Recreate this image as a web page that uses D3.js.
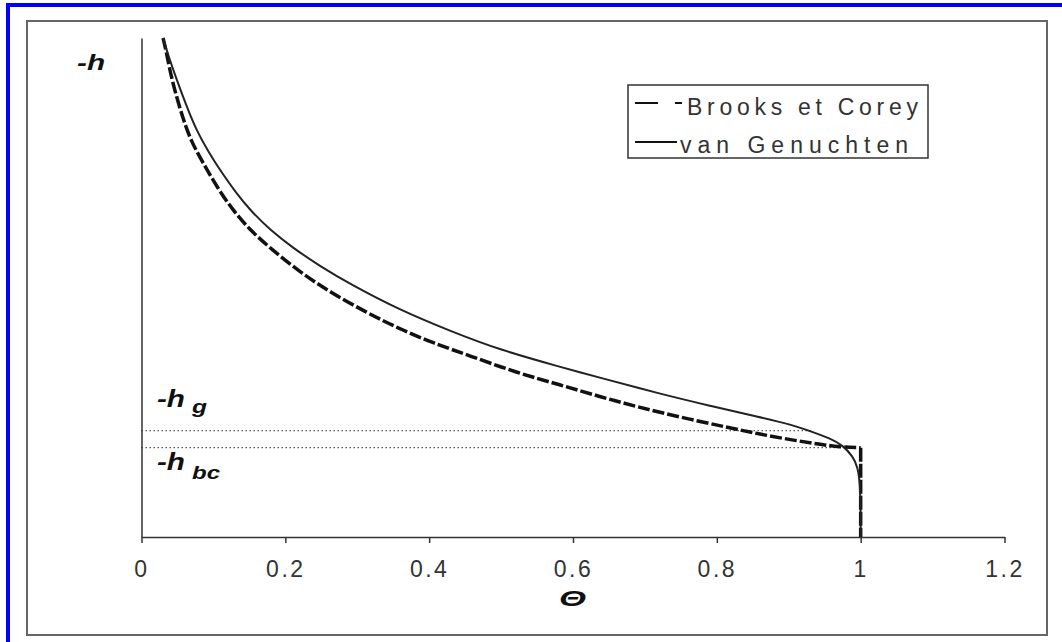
<!DOCTYPE html>
<html>
<head>
<meta charset="utf-8">
<script src="https://cdn.jsdelivr.net/npm/d3@7"></script>
<style>
  html, body { margin: 0; padding: 0; background: #fff; }
  svg { display: block; }
  text { font-family: "Liberation Sans", Arial, sans-serif; }
</style>
</head>
<body>
<svg id="chart" width="1062" height="642"></svg>
<script>
// ---- data ----
const thetaTicks = [0, 0.2, 0.4, 0.6, 0.8, 1, 1.2];
const tickLabels = ["0", "0.2", "0.4", "0.6", "0.8", "1", "1.2"];

// van Genuchten curve: theta (Θ) and -h (arbitrary units, 0..100; no y scale shown)
const vgTheta = [0.030, 0.037, 0.049, 0.062, 0.076, 0.093, 0.112, 0.131, 0.151, 0.179, 0.211, 0.248, 0.290, 0.359, 0.429, 0.498, 0.582, 0.638, 0.721, 0.790, 0.860, 0.902, 0.934, 0.957, 0.975, 0.989, 0.996, 0.999, 1.000, 1.000];
const vgH     = [100.0, 96.6, 91.6, 86.6, 81.6, 77.2, 72.9, 69.1, 65.5, 61.5, 57.9, 54.3, 50.7, 45.5, 41.3, 37.5, 34.1, 31.9, 28.7, 26.3, 24.0, 22.6, 21.0, 19.8, 18.4, 16.2, 14.0, 10.8, 5.4, 0.0];

// Brooks et Corey curve
const bcTheta = [0.030, 0.0355, 0.042, 0.058, 0.070, 0.086, 0.105, 0.127, 0.151, 0.179, 0.220, 0.262, 0.314, 0.359, 0.405, 0.457, 0.522, 0.582, 0.638, 0.689, 0.749, 0.814, 0.860, 0.906, 0.943, 0.971, 1.000];
const bcH     = [100.0, 96.6, 91.6, 83.6, 79.0, 74.9, 70.1, 65.5, 61.5, 57.9, 53.1, 49.1, 44.9, 41.7, 38.9, 36.3, 32.9, 30.5, 28.1, 26.1, 24.0, 22.0, 20.6, 19.4, 18.6, 18.0, 17.9];
const bcVertTheta = [1.000, 1.000];
const bcVertH     = [17.9, 0.0];

// reference pressure levels
const refNames  = ["g", "bc"];
const refH      = [21.3, 17.9];
const refEndTheta = [0.934, 0.972];

const legendLabels = ["Brooks et Corey", "van Genuchten"];

// ---- drawing ----
const svg = d3.select("#chart");

// outer blue border (top & left) and gray frame
svg.append("rect").attr("x", 8).attr("y", 5).attr("width", 1062).attr("height", 650)
  .attr("fill", "none").attr("stroke", "#0000ff").attr("stroke-width", 4);
svg.append("rect").attr("x", 27).attr("y", 21).attr("width", 1020).attr("height", 614)
  .attr("fill", "#fff").attr("stroke", "#666").attr("stroke-width", 2);

const x = d3.scaleLinear().domain([0, 1.2]).range([141.5, 1004.5]);
const y = d3.scaleLinear().domain([0, 100]).range([537, 38]);

// axes
const xAxis = d3.axisBottom(x).tickValues(thetaTicks)
  .tickFormat((d, i) => tickLabels[i]).tickSize(6).tickSizeOuter(0).tickPadding(18);
const gx = svg.append("g").attr("transform", `translate(0,${y(0)})`).call(xAxis);
gx.select(".domain").attr("stroke", "#333").attr("stroke-width", 1.5);
gx.selectAll(".tick line").attr("stroke", "#333").attr("stroke-width", 1.5);
gx.selectAll(".tick text").attr("font-size", 23).attr("fill", "#333")
  .attr("font-family", "Liberation Sans, Arial, sans-serif")
  .style("letter-spacing", "2.5px").attr("dy", "0.71em");

const yAxis = d3.axisLeft(y).tickValues([]).tickSizeOuter(0);
const gy = svg.append("g").attr("transform", `translate(${x(0)},0)`).call(yAxis);
gy.select(".domain").attr("stroke", "#333").attr("stroke-width", 1.5);

// dotted reference lines
refH.forEach((h, i) => {
  svg.append("line")
    .attr("x1", x(0)).attr("x2", x(refEndTheta[i]))
    .attr("y1", y(h)).attr("y2", y(h))
    .attr("stroke", "#333").attr("stroke-width", 1)
    .attr("stroke-dasharray", "1.5,2.5");
});

const curve = d3.line().x(d => x(d[0])).y(d => y(d[1])).curve(d3.curveBasis);
const straight = d3.line().x(d => x(d[0])).y(d => y(d[1]));

// Brooks et Corey (thick dashed)
const bcPts = bcTheta.map((t, i) => [t, bcH[i]]);
svg.append("path").attr("d", curve(bcPts))
  .attr("fill", "none").attr("stroke", "#111").attr("stroke-width", 3.5)
  .attr("stroke-dasharray", "12,3");
const bcV = bcVertTheta.map((t, i) => [t, bcVertH[i]]);
svg.append("path").attr("d", straight(bcV))
  .attr("fill", "none").attr("stroke", "#111").attr("stroke-width", 3.5)
  .attr("stroke-dasharray", "14,2");

// van Genuchten (solid)
const vgPts = vgTheta.map((t, i) => [t, vgH[i]]);
svg.append("path").attr("d", curve(vgPts))
  .attr("fill", "none").attr("stroke", "#222").attr("stroke-width", 2);

// axis labels
svg.append("text").attr("x", 77).attr("y", 70)
  .attr("font-size", 22).attr("font-weight", "bold").attr("font-style", "italic")
  .attr("textLength", 28).attr("lengthAdjust", "spacingAndGlyphs")
  .attr("fill", "#111").text("-h");

const refLabelY = [407, 470];
const refSubY = [413, 479];
const refSubW = [15, 28];
refNames.forEach((n, i) => {
  svg.append("text").attr("x", 157).attr("y", refLabelY[i])
    .attr("font-size", 23).attr("font-weight", "bold").attr("font-style", "italic")
    .attr("textLength", 28).attr("lengthAdjust", "spacingAndGlyphs")
    .attr("fill", "#111").text("-h");
  svg.append("text").attr("x", 192).attr("y", refSubY[i])
    .attr("font-size", 19).attr("font-weight", "bold").attr("font-style", "italic")
    .attr("textLength", refSubW[i]).attr("lengthAdjust", "spacingAndGlyphs")
    .attr("fill", "#111").text(n);
});

svg.append("text").attr("x", 559).attr("y", 606)
  .attr("font-size", 23).attr("font-weight", "bold").attr("font-style", "italic")
  .attr("font-family", "DejaVu Sans, sans-serif")
  .attr("textLength", 27).attr("lengthAdjust", "spacingAndGlyphs")
  .attr("fill", "#111").text("Θ");

// legend
svg.append("rect").attr("x", 628).attr("y", 85).attr("width", 300).attr("height", 73)
  .attr("fill", "#fff").attr("stroke", "#333").attr("stroke-width", 1.5);
svg.append("line").attr("x1", 635).attr("x2", 658).attr("y1", 103).attr("y2", 103)
  .attr("stroke", "#111").attr("stroke-width", 2);
svg.append("line").attr("x1", 675).attr("x2", 682).attr("y1", 103).attr("y2", 103)
  .attr("stroke", "#111").attr("stroke-width", 2);
svg.append("line").attr("x1", 635).attr("x2", 677).attr("y1", 142).attr("y2", 142)
  .attr("stroke", "#111").attr("stroke-width", 2);
svg.append("text").attr("x", 687).attr("y", 115).attr("font-size", 23).attr("fill", "#333")
  .attr("textLength", 231).attr("lengthAdjust", "spacing").text(legendLabels[0]);
svg.append("text").attr("x", 680).attr("y", 153).attr("font-size", 23).attr("fill", "#333")
  .attr("textLength", 228).attr("lengthAdjust", "spacing").text(legendLabels[1]);
</script>
</body>
</html>
